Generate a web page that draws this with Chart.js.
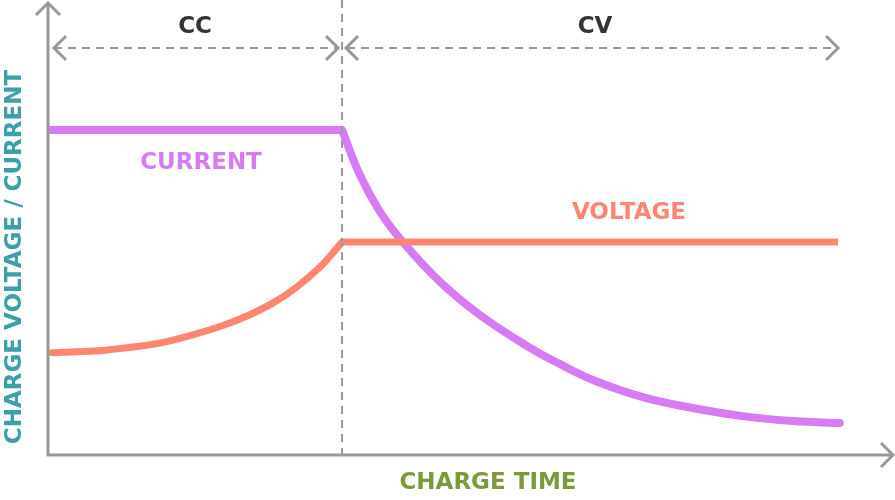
<!DOCTYPE html>
<html>
<head>
<meta charset="utf-8">
<script src="https://cdn.jsdelivr.net/npm/chart.js@4"></script>
<style>
  html, body { margin: 0; padding: 0; background: #fff; }
  #wrap { width: 895px; height: 500px; }
</style>
</head>
<body>
<div id="wrap"><canvas id="chart"></canvas></div>
<script>
// time runs 0..100, level runs 0..100
const phaseSplit = 34.8;
const phaseLabels = ['CC', 'CV'];

const currentFlatX = [0, 34.8];
const currentFlatY = [71.9, 71.9];
const currentDropX = [34.8, 36.9, 39.3, 42.0, 46.4, 51.1, 56.7, 60.6, 64.5, 70.4, 76.3, 82.2, 88.2, 93.7];
const currentDropY = [71.9, 62.0, 53.8, 47.1, 38.3, 31.0, 24.1, 20.1, 16.6, 12.8, 10.4, 8.6, 7.5, 7.1];

const voltageRiseX = [0.5, 7.3, 14.8, 26.6, 32.2, 34.8];
const voltageRiseY = [22.6, 23.3, 25.4, 33.6, 41.6, 47.1];
const voltageFlatX = [34.8, 93.5];
const voltageFlatY = [47.1, 47.1];

const purple = '#d67cf2';
const salmon = '#fd8572';
const gray = '#999999';
const font = 'bold 23px "DejaVu Sans"';

function pts(xs, ys) {
    return xs.map((x, i) => ({ x: x, y: ys[i] }));
}

function line(data, color, width, mode) {
    // mode: 'flat', 'monotone' or 'spline'
    return {
        data: data,
        borderColor: color,
        borderWidth: width,
        pointRadius: 0,
        fill: false,
        borderCapStyle: mode === 'flat' ? 'butt' : 'round',
        borderJoinStyle: 'round',
        cubicInterpolationMode: mode === 'monotone' ? 'monotone' : 'default',
        tension: mode === 'spline' ? 0.4 : 0
    };
}

function arrowHead(ctx, x, y, dir, size) {
    // dir: 'up', 'left', 'right'
    ctx.beginPath();
    if (dir === 'up') {
        ctx.moveTo(x - size, y + size); ctx.lineTo(x, y); ctx.lineTo(x + size, y + size);
    } else if (dir === 'right') {
        ctx.moveTo(x - size, y - size); ctx.lineTo(x, y); ctx.lineTo(x - size, y + size);
    } else {
        ctx.moveTo(x + size, y - size); ctx.lineTo(x, y); ctx.lineTo(x + size, y + size);
    }
    ctx.stroke();
}

const overlay = {
    id: 'overlay',
    afterDatasetsDraw(chart) {
        const ctx = chart.ctx;
        const xs = chart.scales.x, ys = chart.scales.y;
        const left = xs.getPixelForValue(0), right = xs.getPixelForValue(100);
        const bottom = ys.getPixelForValue(0), top = ys.getPixelForValue(100);
        const split = xs.getPixelForValue(phaseSplit);
        const cvEnd = xs.getPixelForValue(93.5);
        const yArrow = 48;

        ctx.save();
        ctx.strokeStyle = gray;
        ctx.lineCap = 'butt';
        ctx.lineJoin = 'miter';

        // dashed divider and phase arrows
        ctx.lineWidth = 2;
        ctx.setLineDash([8, 6]);
        ctx.beginPath();
        ctx.moveTo(split, 0); ctx.lineTo(split, bottom);
        ctx.moveTo(left + 6, yArrow); ctx.lineTo(split - 5, yArrow);
        ctx.moveTo(split + 5, yArrow); ctx.lineTo(cvEnd, yArrow);
        ctx.stroke();
        ctx.setLineDash([]);
        ctx.lineWidth = 3;
        arrowHead(ctx, left + 6, yArrow, 'left', 12);
        arrowHead(ctx, split - 4, yArrow, 'right', 12);
        arrowHead(ctx, split + 4, yArrow, 'left', 12);
        arrowHead(ctx, cvEnd, yArrow, 'right', 12);

        // axes
        ctx.lineWidth = 3;
        ctx.beginPath();
        ctx.moveTo(left, top + 1); ctx.lineTo(left, bottom);
        ctx.lineTo(right - 1, bottom);
        ctx.stroke();
        arrowHead(ctx, left, top, 'up', 12);
        arrowHead(ctx, right, bottom, 'right', 12);

        // texts
        ctx.font = font;
        ctx.textAlign = 'center';
        ctx.textBaseline = 'middle';
        ctx.fillStyle = '#333333';
        ctx.fillText(phaseLabels[0], (left + split) / 2, 27);
        ctx.fillText(phaseLabels[1], (split + cvEnd) / 2 + 5, 27);
        ctx.fillStyle = purple;
        ctx.fillText('CURRENT', 201, 163);
        ctx.fillStyle = salmon;
        ctx.fillText('VOLTAGE', 629, 213);
        ctx.fillStyle = '#7c9a3c';
        ctx.fillText('CHARGE TIME', 488, 483);
        ctx.translate(15, 257);
        ctx.rotate(-Math.PI / 2);
        ctx.fillStyle = '#3d9fa8';
        ctx.fillText('CHARGE VOLTAGE / CURRENT', 0, 0);
        ctx.restore();
    }
};

new Chart(document.getElementById('chart'), {
    type: 'line',
    data: {
        datasets: [
            line(pts(voltageRiseX, voltageRiseY), salmon, 7, 'monotone'),
            line(pts(voltageFlatX, voltageFlatY), salmon, 7, 'flat'),
            line(pts(currentFlatX, currentFlatY), purple, 8, 'flat'),
            line(pts(currentDropX, currentDropY), purple, 8, 'spline')
        ]
    },
    options: {
        responsive: true,
        maintainAspectRatio: false,
        animation: false,
        layout: { padding: { left: 48, right: 2, top: 3, bottom: 45 } },
        plugins: { legend: { display: false }, tooltip: { enabled: false } },
        scales: {
            x: { type: 'linear', min: 0, max: 100, display: false },
            y: { min: 0, max: 100, display: false }
        }
    },
    plugins: [overlay]
});
</script>
</body>
</html>
